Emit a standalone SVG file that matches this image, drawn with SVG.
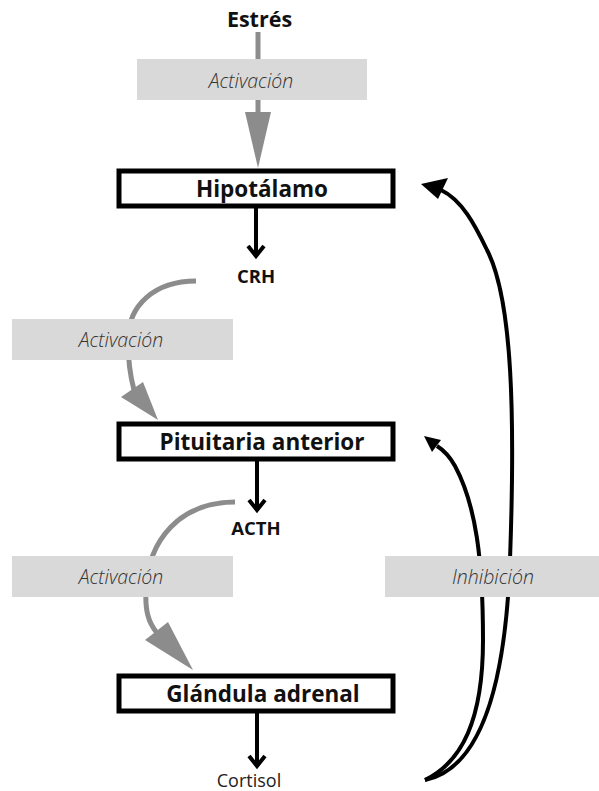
<svg xmlns="http://www.w3.org/2000/svg" width="599" height="791" viewBox="0 0 599 791">
  <style>
    .node rect { fill: #ffffff; stroke: #000000; stroke-width: 5; }
    .title { font-family: "Open Sans", "Noto Sans", sans-serif; font-weight: 700; font-size: 22.5px; fill: #111; text-anchor: middle; }
    .hormone { font-family: "Open Sans", "Noto Sans", sans-serif; font-weight: 700; font-size: 18.5px; fill: #111; text-anchor: middle; }
    .plain { font-family: "Open Sans", "Noto Sans", sans-serif; font-weight: 400; font-size: 18px; fill: #222; text-anchor: middle; }
    .tag rect { fill: #d9d9d9; }
    .tag text { font-family: "Open Sans", "Noto Sans", sans-serif; font-style: italic; font-weight: 300; font-size: 19.5px; fill: #333; text-anchor: middle; }
    .gray { fill: none; stroke: #8c8c8c; stroke-width: 5; }
    .grayhead { fill: #8c8c8c; }
    .black { fill: none; stroke: #000; stroke-width: 4; }
    .chev { fill: none; stroke: #000; stroke-width: 4; stroke-linejoin: miter; }
    .fb { fill: none; stroke: #000; stroke-width: 4; }
    .fbhead { fill: #000; }
  </style>

  <!-- connectors -->
  <g id="connectors">
    <!-- stress to hypothalamus -->
    <line class="gray" x1="258" y1="32" x2="258" y2="115"/>
    <polygon class="grayhead" points="258,168 245,112 271,112"/>

    <!-- CRH to pituitary -->
    <path class="gray" d="M196,281 C155,281 128,305 128,340 C128,360 130,375 134,390"/>
    <polygon class="grayhead" points="158,420 121,397 143,382"/>

    <!-- ACTH to adrenal -->
    <path class="gray" d="M235,502 C180,502 148,540 146,590 C145,610 148,622 157,633"/>
    <polygon class="grayhead" points="193,670 145,640 168,622"/>

    <!-- secretion arrows -->
    <line class="black" x1="256" y1="208" x2="256" y2="256"/>
    <polyline class="chev" points="248,246 256,256 264,246"/>
    <line class="black" x1="257" y1="461" x2="257" y2="510"/>
    <polyline class="chev" points="249,500 257,510 265,500"/>
    <line class="black" x1="257" y1="713" x2="257" y2="766"/>
    <polyline class="chev" points="249,756 257,766 265,756"/>

    <!-- cortisol feedback -->
    <path class="fb" d="M425,780 C475,770 505,700 510,560 C515,420 513,300 487,250 C475,225 462,200 441,190"/>
    <polygon class="fbhead" points="421,184 448,178 438,199"/>
    <path class="fb" d="M425,780 C462,762 483,720 483,640 C483,560 476,505 455,466 C450,457 445,451 437,446"/>
    <polygon class="fbhead" points="424,436 441,440 432,452"/>
  </g>

  <!-- labels on connectors -->
  <g id="tag-activation-1" class="tag">
    <rect x="137" y="59" width="230" height="41"/>
    <text x="251" y="88">Activación</text>
  </g>
  <g id="tag-activation-2" class="tag">
    <rect x="12" y="319" width="221" height="41"/>
    <text x="121" y="347">Activación</text>
  </g>
  <g id="tag-activation-3" class="tag">
    <rect x="12" y="556" width="221" height="41"/>
    <text x="121" y="584">Activación</text>
  </g>
  <g id="tag-inhibition" class="tag">
    <rect x="385" y="556" width="214" height="41"/>
    <text x="493" y="584">Inhibición</text>
  </g>

  <!-- nodes -->
  <g id="stress">
    <text class="title" x="259.5" y="27" style="font-size:21.5px">Estrés</text>
  </g>
  <g id="hypothalamus" class="node">
    <rect x="119" y="171" width="274" height="35"/>
    <text class="title" x="262" y="197">Hipotálamo</text>
  </g>
  <g id="crh">
    <text class="hormone" x="256" y="283">CRH</text>
  </g>
  <g id="pituitary" class="node">
    <rect x="119" y="424" width="274" height="35"/>
    <text class="title" x="262" y="450">Pituitaria anterior</text>
  </g>
  <g id="acth">
    <text class="hormone" x="256" y="535">ACTH</text>
  </g>
  <g id="adrenal" class="node">
    <rect x="119" y="676" width="274" height="35"/>
    <text class="title" x="263" y="702">Glándula adrenal</text>
  </g>
  <g id="cortisol">
    <text class="plain" x="249" y="787">Cortisol</text>
  </g>
</svg>
